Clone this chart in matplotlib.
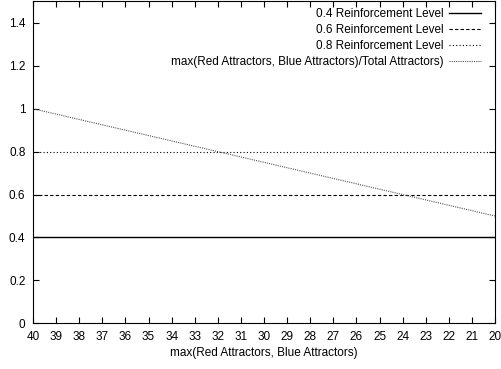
import matplotlib
matplotlib.use("Agg")
import matplotlib.pyplot as plt

plt.rcParams['font.family'] = ['Liberation Sans', 'DejaVu Sans']

# dane
x_range = [40, 20]
levels = [0.4, 0.6, 0.8]
level_labels = ['0.4 Reinforcement Level', '0.6 Reinforcement Level', '0.8 Reinforcement Level']
ratio_x = [40, 20]
ratio_y = [1.0, 0.5]
ratio_label = 'max(Red Attractors, Blue Attractors)/Total Attractors)'
x_ticks = list(range(40, 19, -1))
y_ticks = [0, 0.2, 0.4, 0.6, 0.8, 1.0, 1.2, 1.4]
y_tick_labels = ['0', '0.2', '0.4', '0.6', '0.8', '1', '1.2', '1.4']

fig = plt.figure(figsize=(5.01, 3.69), dpi=100)
ax = fig.add_axes([0.066, 0.124, 0.922, 0.872])

styles = [dict(color='black', linestyle='-', linewidth=1.0),
          dict(color='black', linestyle=(0, (3, 2)), linewidth=0.8),
          dict(color='black', linestyle=(0, (1, 2)), linewidth=0.8)]
for lvl, lab, st in zip(levels, level_labels, styles):
    ax.plot(x_range, [lvl, lvl], label=lab, **st)

ax.plot(ratio_x, ratio_y, color='#555555', linestyle=(0, (1, 1)), linewidth=0.8, label=ratio_label)

ax.set_xlim(40, 20)
ax.set_ylim(0, 1.5)
ax.set_xticks(x_ticks)
ax.set_yticks(y_ticks)
ax.set_yticklabels(y_tick_labels)
ax.tick_params(direction='in', top=True, right=True, labelsize=8.5, length=4, width=0.8, pad=5.5)
ax.set_xlabel('max(Red Attractors, Blue Attractors)', fontsize=8.5, labelpad=3)

ax.legend(loc='upper right', bbox_to_anchor=(0.98, 0.994), frameon=False, markerfirst=False,
          fontsize=8.5, handlelength=2.7, labelspacing=0.33, borderaxespad=0.0,
          borderpad=0.4, handletextpad=0.5)

fig.savefig('out.png', dpi=100)
